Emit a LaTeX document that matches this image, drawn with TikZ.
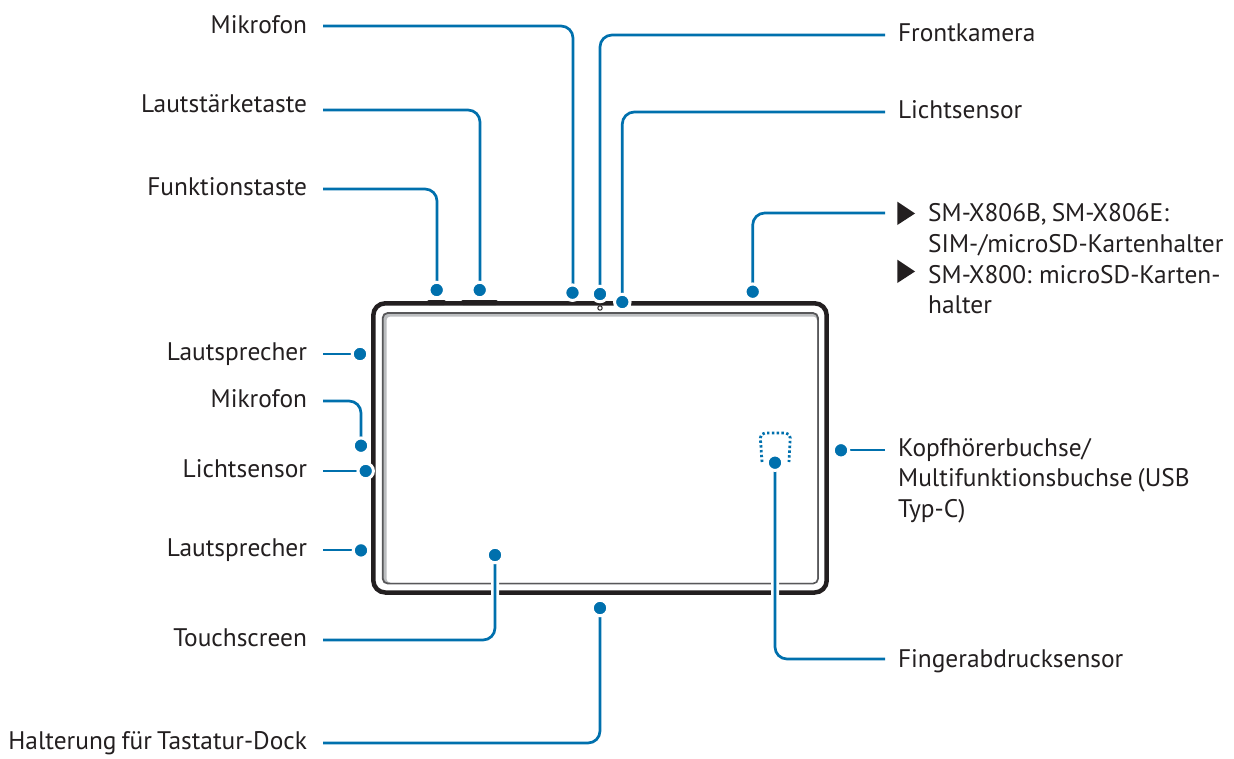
\documentclass[tikz,border=0pt]{standalone}
\usepackage{xcolor}
\usepackage{fontspec}
\setmainfont[WordSpace=0.75]{PT Sans}
\definecolor{leadblue}{RGB}{0, 112, 173}
\definecolor{bezelblack}{RGB}{35, 31, 32}
\definecolor{screengray}{RGB}{88, 88, 90}
\definecolor{stripgray}{RGB}{188, 190, 192}
\usetikzlibrary{positioning}
\begin{document}
\begin{tikzpicture}[
    x=1pt, y=-1pt,
    lead/.style={preaction={draw, white, line width=8pt}, leadblue, line width=2.7pt, rounded corners=12pt},
    dotmark/.style={circle, fill=leadblue, draw=white, line width=3pt, minimum size=15.5pt, inner sep=0pt},
    leftlabel/.style={anchor=east, inner sep=0pt, outer xsep=16pt, text height=18pt, text depth=6pt, font=\fontsize{25.4}{30.7}\selectfont, text=bezelblack},
    rightlabel/.style={anchor=west, inner sep=0pt, outer xsep=13pt, text height=18pt, text depth=6pt, font=\fontsize{25.4}{30.7}\selectfont, text=bezelblack},
    blocktext/.style={anchor=north west, inner sep=0pt, font=\fontsize{25.4}{30.7}\selectfont, text=bezelblack, align=left}
]
    \useasboundingbox (0,0) rectangle (1234,758);

    % Tablet
    \draw[bezelblack, line width=4.5pt, rounded corners=12pt] (373.3,303.3) rectangle (826.7,592.5);
    \fill[bezelblack, rounded corners=2pt] (427,300) rectangle (446,305);
    \fill[bezelblack, rounded corners=2pt] (461,300) rectangle (498,305);
    \draw[screengray, fill=stripgray, line width=1.8pt, rounded corners=5pt] (382.7,313) rectangle (818,583.5);
    \fill[white, rounded corners=4pt] (386.5,316.5) rectangle (817,582.5);
    \draw[bezelblack, line width=1pt] (600,308) circle (2.2);
    \draw[leadblue, line width=2.8pt, dash pattern=on 2.4pt off 2.4pt, rounded corners=5pt] (762,462) -- (760,433) -- (790.5,433) -- (789,462);

    % Labels on the left
    \node[leftlabel, text height=19pt, text depth=5pt] (mictop) at (323,26) {Mikrofon};
    \node[leftlabel, text height=14pt, text depth=10pt] (volume) at (323,110) {Lautstärketaste};
    \node[leftlabel] (power) at (323,189) {Funktionstaste};
    \node[leftlabel] (spkupper) at (323,354) {Lautsprecher};
    \node[leftlabel] (micleft) at (323,401) {Mikrofon};
    \node[leftlabel] (lightleft) at (323,471) {Lichtsensor};
    \node[leftlabel] (spklower) at (323,550) {Lautsprecher};
    \node[leftlabel] (touch) at (323,640) {Touchscreen};
    \node[leftlabel] (dock) at (323,743) {Halterung für Tastatur-Dock};

    % Labels on the right
    \node[rightlabel] (camera) at (885,35) {Frontkamera};
    \node[rightlabel] (lighttop) at (885,112) {Lichtsensor};
    \coordinate (simtray) at (885,213);
    \node[blocktext] (simtext) at (928,203.5) {SM-X806B, SM-X806E:\\SIM-/microSD-Kartenhalter\\SM-X800: microSD-Karten-\\halter};
    \coordinate (jack) at (885,450);
    \node[blocktext] (jacktext) at (898,438) {Kopfhörerbuchse/\\Multifunktionsbuchse (USB\\Typ-C)};
    \node[rightlabel, text height=20pt, text depth=4pt] (finger) at (885,659) {Fingerabdrucksensor};
    \fill[bezelblack] (897.3,201.7) -- (915,213.5) -- (897.3,225) -- cycle;
    \fill[bezelblack] (897.3,259.7) -- (915,271.5) -- (897.3,283) -- cycle;

    % Leaders
    \draw[lead] (mictop.east) -| (573,292);
    \draw[lead] (volume.east) -| (480,290);
    \draw[lead] (power.east) -| (437,290);
    \draw[lead] (spkupper.east) -- (360,354);
    \draw[lead] (micleft.east) -| (361,446);
    \draw[lead] (lightleft.east) -- (365.7,471);
    \draw[lead] (spklower.east) -- (361,550);
    \draw[lead] (touch.east) -| (495,555);
    \draw[lead] (dock.east) -| (600,608);
    \draw[lead] (camera.west) -| (600,294);
    \draw[lead] (lighttop.west) -| (622.3,302);
    \draw[lead] (simtray) -| (752.7,292);
    \draw[lead] (jack) -- (841,450);
    \draw[lead] (finger.west) -| (775,463);

    % Dots
    \node[dotmark] (dmictop) at (572.5,292.7) {};
    \node[dotmark] (dvolume) at (479.7,290) {};
    \node[dotmark] (dpower) at (436.7,290) {};
    \node[dotmark] (dspkupper) at (360,354) {};
    \node[dotmark] (dmicleft) at (361,445.7) {};
    \node[dotmark] (dlightleft) at (365.7,471) {};
    \node[dotmark] (dspklower) at (361,550.4) {};
    \node[dotmark] (dtouch) at (495,555) {};
    \node[dotmark] (ddock) at (600,608) {};
    \node[dotmark] (dcamera) at (600,294) {};
    \node[dotmark] (dlighttop) at (622.3,302) {};
    \node[dotmark] (dsimtray) at (752.7,291.7) {};
    \node[dotmark] (djack) at (841,450.3) {};
    \node[dotmark] (dfinger) at (775,462.7) {};
\end{tikzpicture}
\end{document}
